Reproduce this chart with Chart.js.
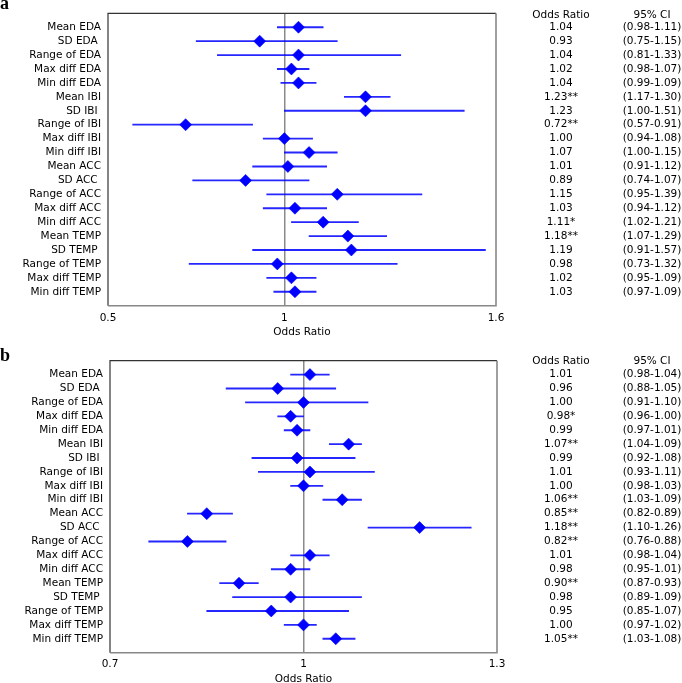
<!DOCTYPE html>
<html>
<head>
<meta charset="utf-8">
<title>Odds ratios</title>
<script src="https://cdn.jsdelivr.net/npm/chart.js@4.4.0/dist/chart.umd.min.js"></script>
<style>
    html, body { margin: 0; padding: 0; background: #fff; overflow: hidden; }
    #wrapA { position: absolute; left: 0; top: 0; width: 682px; height: 340px; }
    #wrapB { position: absolute; left: 0; top: 340px; width: 682px; height: 350px; }
</style>
</head>
<body>
<div id="wrapA"><canvas id="chartA"></canvas></div>
<div id="wrapB"><canvas id="chartB"></canvas></div>
<script>
    "use strict";

    // Features (rows, top to bottom)
    var features = ['Mean EDA', 'SD EDA ', 'Range of EDA', 'Max diff EDA', 'Min diff EDA',
        'Mean IBI', 'SD IBI ', 'Range of IBI', 'Max diff IBI', 'Min diff IBI',
        'Mean ACC', 'SD ACC ', 'Range of ACC', 'Max diff ACC', 'Min diff ACC',
        'Mean TEMP', 'SD TEMP ', 'Range of TEMP', 'Max diff TEMP', 'Min diff TEMP'];

    // Panel a
    var orA = [1.04, 0.93, 1.04, 1.02, 1.04, 1.23, 1.23, 0.72, 1.00, 1.07, 1.01, 0.89, 1.15, 1.03, 1.11, 1.18, 1.19, 0.98, 1.02, 1.03];
    var loA = [0.98, 0.75, 0.81, 0.98, 0.99, 1.17, 1.00, 0.57, 0.94, 1.00, 0.91, 0.74, 0.95, 0.94, 1.02, 1.07, 0.91, 0.73, 0.95, 0.97];
    var hiA = [1.11, 1.15, 1.33, 1.07, 1.09, 1.30, 1.51, 0.91, 1.08, 1.15, 1.12, 1.07, 1.39, 1.12, 1.21, 1.29, 1.57, 1.32, 1.09, 1.09];
    var starsA = ['', '', '', '', '', '**', '', '**', '', '', '', '', '', '', '*', '**', '', '', '', ''];
    var ticksA = [0.5, 1, 1.6];

    // Panel b
    var orB = [1.01, 0.96, 1.00, 0.98, 0.99, 1.07, 0.99, 1.01, 1.00, 1.06, 0.85, 1.18, 0.82, 1.01, 0.98, 0.90, 0.98, 0.95, 1.00, 1.05];
    var loB = [0.98, 0.88, 0.91, 0.96, 0.97, 1.04, 0.92, 0.93, 0.98, 1.03, 0.82, 1.10, 0.76, 0.98, 0.95, 0.87, 0.89, 0.85, 0.97, 1.03];
    var hiB = [1.04, 1.05, 1.10, 1.00, 1.01, 1.09, 1.08, 1.11, 1.03, 1.09, 0.89, 1.26, 0.88, 1.04, 1.01, 0.93, 1.09, 1.07, 1.02, 1.08];
    var starsB = ['', '', '', '*', '', '**', '', '', '', '**', '**', '**', '**', '', '', '**', '', '', '', '**'];
    var ticksB = [0.7, 1, 1.3];

    var FONT = 'DejaVu Sans';
    var BLUE = '#0000ff';

    // frame, side table and panel letter
    var panelPlugin = {
        id: 'panel',
        afterDatasetsDraw: function (chart, args, opts) {
            var ctx = chart.ctx;
            var a = chart.chartArea;
            var ys = chart.scales.y;
            ctx.save();
            ctx.lineWidth = 1.2;
            ctx.strokeStyle = '#333';
            ctx.beginPath();
            ctx.moveTo(a.left, a.bottom);
            ctx.lineTo(a.left, a.top);
            ctx.lineTo(a.right, a.top);
            ctx.stroke();
            ctx.lineWidth = 1.6;
            ctx.strokeStyle = '#888';
            ctx.beginPath();
            ctx.moveTo(a.right, a.top);
            ctx.lineTo(a.right, a.bottom);
            ctx.lineTo(a.left, a.bottom);
            ctx.stroke();

            ctx.fillStyle = '#000';
            ctx.font = '10.5px "' + FONT + '"';
            ctx.textAlign = 'center';
            ctx.textBaseline = 'middle';
            var hy = ys.getPixelForValue(-1) + opts.headerShift;
            ctx.fillText('Odds Ratio', 561, hy);
            ctx.fillText('95% CI', 652, hy);
            for (var i = 0; i < opts.or.length; i++) {
                var y = ys.getPixelForValue(i);
                ctx.fillText(opts.or[i].toFixed(2) + opts.stars[i], 561, y);
                ctx.fillText('(' + opts.lo[i].toFixed(2) + '-' + opts.hi[i].toFixed(2) + ')', 652, y);
            }

            ctx.font = 'bold 18px "Liberation Serif"';
            ctx.textAlign = 'left';
            ctx.textBaseline = 'alphabetic';
            ctx.fillText(opts.letter, 0, opts.letterY);
            ctx.restore();
        }
    };

    function makeChart(id, or, lo, hi, stars, ticks, p) {
        var ctx = document.getElementById(id).getContext('2d');
        return new Chart(ctx, {
            type: 'scatter',
            data: {
                datasets: [{
                    type: 'scatter',
                    data: or.map(function (v, i) { return {x: v, y: i}; }),
                    pointStyle: 'rectRot',
                    pointRadius: 6,
                    pointBorderWidth: 0.6,
                    backgroundColor: BLUE,
                    borderColor: BLUE,
                    order: 0
                }, {
                    type: 'bar',
                    indexAxis: 'y',
                    data: lo.map(function (v, i) { return {x: [v, hi[i]], y: i}; }),
                    backgroundColor: 'rgba(0, 0, 255, 0.85)',
                    borderWidth: 0,
                    barThickness: 1.2,
                    order: 1
                }]
            },
            options: {
                responsive: true,
                maintainAspectRatio: false,
                animation: false,
                layout: {padding: {left: 0, top: p.top, right: p.right, bottom: 0}},
                plugins: {
                    legend: {display: false},
                    tooltip: {enabled: false},
                    panel: {or: or, lo: lo, hi: hi, stars: stars, letter: p.letter, letterY: p.letterY, headerShift: p.headerShift}
                },
                scales: {
                    x: {
                        type: 'linear',
                        min: ticks[0],
                        max: ticks[ticks.length - 1],
                        border: {display: false},
                        grid: {
                            drawTicks: false,
                            lineWidth: 1.5,
                            color: function (c) { return c.tick && c.tick.value === 1 ? '#8a8a8a' : 'rgba(0,0,0,0)'; }
                        },
                        afterBuildTicks: function (s) { s.ticks = ticks.map(function (v) { return {value: v}; }); },
                        afterFit: function (s) { s.height = p.xHeight; },
                        ticks: {
                            color: '#000',
                            padding: p.tickPad,
                            maxRotation: 0,
                            font: {family: FONT, size: 10.5},
                            callback: function (v) { return String(v); }
                        },
                        title: {
                            display: true,
                            text: 'Odds Ratio',
                            color: '#000',
                            padding: {top: 0, bottom: p.titlePad},
                            font: {family: FONT, size: 10.5}
                        }
                    },
                    y: {
                        type: 'linear',
                        reverse: true,
                        min: -1,
                        max: 20,
                        offset: false,
                        border: {display: false},
                        grid: {display: false, drawTicks: false, offset: false},
                        afterBuildTicks: function (s) { s.ticks = features.map(function (f, i) { return {value: i}; }); },
                        afterFit: function (s) { s.width = p.yWidth; },
                        ticks: {
                            color: '#000',
                            padding: 7,
                            autoSkip: false,
                            font: {family: FONT, size: 10.5},
                            callback: function (v) { return features[v]; }
                        }
                    }
                }
            },
            plugins: [panelPlugin]
        });
    }

    makeChart('chartA', orA, loA, hiA, starsA, ticksA,
        {top: 13, right: 186, xHeight: 34.3, yWidth: 108, tickPad: 6, titlePad: 1.7, letter: 'a', letterY: 9, headerShift: 2});
    makeChart('chartB', orB, loB, hiB, starsB, ticksB,
        {top: 20.7, right: 185, xHeight: 37.3, yWidth: 110, tickPad: 5, titlePad: 4.7, letter: 'b', letterY: 21, headerShift: 1});
</script>
</body>
</html>
